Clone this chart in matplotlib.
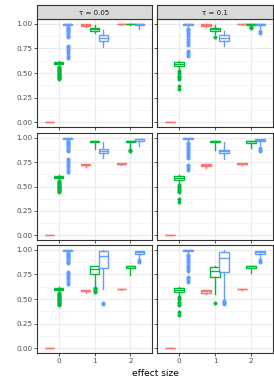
import matplotlib
matplotlib.use("Agg")
import numpy as np
from matplotlib import pyplot as plt

# facets
taus = ["0.05", "0.1"]
effect = [0, 1, 2]
colors = ["#F8766D", "#00BA38", "#619CFF"]   # red, green, blue groups
offsets = [-0.25, 0.0, 0.25]

# box summaries (lo, q1, med, q3, hi): one row per effect size, red/green/blue inside
box_r1_t005 = [
    [(0, 0, 0, 0, 0), (0.57, 0.59, 0.60, 0.61, 0.62), (0.98, 0.99, 1.0, 1.0, 1.0)],
    [(0.97, 0.98, 0.99, 1.0, 1.0), (0.91, 0.93, 0.945, 0.96, 0.99), (0.76, 0.83, 0.86, 0.89, 0.94)],
    [(0.99, 0.995, 1.0, 1.0, 1.0), (0.99, 0.995, 1.0, 1.0, 1.0), (0.95, 0.99, 1.0, 1.0, 1.0)],
]
box_r1_t01 = [
    [(0, 0, 0, 0, 0), (0.53, 0.57, 0.59, 0.61, 0.62), (0.97, 0.99, 1.0, 1.0, 1.0)],
    [(0.97, 0.98, 0.99, 1.0, 1.0), (0.90, 0.93, 0.945, 0.96, 0.99), (0.78, 0.83, 0.86, 0.89, 0.93)],
    [(0.99, 0.995, 1.0, 1.0, 1.0), (0.98, 0.99, 1.0, 1.0, 1.0), (0.96, 0.99, 1.0, 1.0, 1.0)],
]
box_r2_t005 = [
    [(0, 0, 0, 0, 0), (0.57, 0.59, 0.60, 0.61, 0.62), (0.98, 0.99, 1.0, 1.0, 1.0)],
    [(0.70, 0.72, 0.725, 0.73, 0.73), (0.89, 0.96, 0.965, 0.97, 0.97), (0.79, 0.84, 0.86, 0.89, 0.96)],
    [(0.725, 0.73, 0.735, 0.74, 0.745), (0.90, 0.96, 0.965, 0.97, 0.97), (0.92, 0.97, 0.99, 0.99, 0.99)],
]
box_r2_t01 = [
    [(0, 0, 0, 0, 0), (0.53, 0.57, 0.59, 0.61, 0.62), (0.97, 0.99, 1.0, 1.0, 1.0)],
    [(0.69, 0.71, 0.72, 0.73, 0.73), (0.88, 0.96, 0.965, 0.97, 0.97), (0.78, 0.84, 0.86, 0.88, 0.96)],
    [(0.725, 0.73, 0.735, 0.74, 0.745), (0.90, 0.95, 0.965, 0.97, 0.97), (0.93, 0.97, 0.98, 0.99, 0.99)],
]
box_r3_t005 = [
    [(0, 0, 0, 0, 0), (0.57, 0.59, 0.60, 0.61, 0.62), (0.98, 0.99, 1.0, 1.0, 1.0)],
    [(0.56, 0.58, 0.585, 0.59, 0.59), (0.62, 0.75, 0.81, 0.84, 0.84), (0.60, 0.82, 0.94, 0.99, 1.0)],
    [(0.595, 0.597, 0.60, 0.60, 0.605), (0.74, 0.82, 0.84, 0.84, 0.84), (0.92, 0.96, 0.98, 0.99, 0.99)],
]
box_r3_t01 = [
    [(0, 0, 0, 0, 0), (0.53, 0.57, 0.59, 0.61, 0.62), (0.97, 0.99, 1.0, 1.0, 1.0)],
    [(0.55, 0.56, 0.58, 0.59, 0.59), (0.55, 0.72, 0.79, 0.83, 0.84), (0.50, 0.78, 0.92, 0.98, 1.0)],
    [(0.595, 0.597, 0.60, 0.60, 0.605), (0.76, 0.82, 0.84, 0.84, 0.84), (0.92, 0.96, 0.98, 0.99, 0.99)],
]

# outliers keyed by (effect index, group index)
green0_t005 = [0.44, 0.45, 0.46, 0.47, 0.48, 0.49, 0.50, 0.51, 0.52, 0.53, 0.54, 0.55, 0.56]
blue0_t005 = [0.65, 0.67, 0.70, 0.72, 0.74, 0.76, 0.78, 0.87, 0.88, 0.90, 0.92, 0.93, 0.94, 0.95, 0.96, 0.97]
green0_t01 = [0.34, 0.37, 0.44, 0.46, 0.47, 0.50, 0.52]
blue0_t01 = [0.67, 0.69, 0.71, 0.72, 0.79, 0.81, 0.83, 0.85, 0.88, 0.90, 0.92, 0.94, 0.95]

out_r1_t005 = {(0, 1): green0_t005, (0, 2): blue0_t005}
out_r1_t01 = {(0, 1): green0_t01, (0, 2): blue0_t01, (1, 1): [0.87],
              (2, 1): [0.96, 0.97], (2, 2): [0.91, 0.93]}
out_r2_t005 = {(0, 1): green0_t005, (0, 2): blue0_t005, (2, 1): [0.87, 0.88]}
out_r2_t01 = {(0, 1): green0_t01, (0, 2): blue0_t01, (2, 2): [0.86, 0.88, 0.90]}
out_r3_t005 = {(0, 1): green0_t005, (0, 2): blue0_t005, (1, 1): [0.57, 0.58, 0.60, 0.61],
               (1, 2): [0.45, 0.46], (2, 2): [0.88, 0.90]}
out_r3_t01 = {(0, 1): green0_t01, (0, 2): blue0_t01, (1, 1): [0.46],
              (1, 2): [0.45, 0.46, 0.47, 0.48], (2, 2): [0.88, 0.90]}

boxes = [[box_r1_t005, box_r1_t01], [box_r2_t005, box_r2_t01], [box_r3_t005, box_r3_t01]]
outs = [[out_r1_t005, out_r1_t01], [out_r2_t005, out_r2_t01], [out_r3_t005, out_r3_t01]]

W, H = 274, 384
fig = plt.figure(figsize=(2.74, 3.84), dpi=100)

col_x = [(37, 152), (157, 273)]
row_y = [(19, 127), (133, 240), (245, 353)]
dark = "#333333"

def frac(x0, x1, y0, y1):
    return [x0 / W, 1 - y1 / H, (x1 - x0) / W, (y1 - y0) / H]

for r in range(3):
    for c in range(2):
        ax = fig.add_axes(frac(col_x[c][0], col_x[c][1], row_y[r][0], row_y[r][1]))
        ax.set_xlim(-0.6, 2.6)
        ax.set_ylim(-0.05, 1.05)
        ax.set_yticks([0, 0.25, 0.5, 0.75, 1.0])
        ax.set_yticks([0.125, 0.375, 0.625, 0.875], minor=True)
        ax.set_xticks(effect)
        ax.grid(which="major", color="#EBEBEB", lw=0.8)
        ax.grid(which="minor", axis="y", color="#F2F2F2", lw=0.45)
        ax.set_axisbelow(True)
        for s in ax.spines.values():
            s.set_color(dark)
            s.set_linewidth(0.8)
        ax.tick_params(which="major", length=2, width=0.6, color=dark,
                       labelsize=5.2, labelcolor="#4D4D4D", pad=1.5)
        ax.tick_params(which="minor", length=0)
        if c == 0:
            ax.set_yticklabels(["0.00", "0.25", "0.50", "0.75", "1.00"])
        else:
            ax.tick_params(axis="y", labelleft=False)
        if r < 2:
            ax.tick_params(axis="x", labelbottom=False)

        for g in range(3):
            stats = []
            pos = []
            for e in effect:
                lo, q1, med, q3, hi = boxes[r][c][e][g]
                stats.append(dict(whislo=lo, q1=q1, med=med, q3=q3, whishi=hi,
                                  fliers=outs[r][c].get((e, g), [])))
                pos.append(e + offsets[g])
            col = colors[g]
            ax.bxp(stats, positions=pos, widths=0.27, patch_artist=True,
                   showcaps=False, manage_ticks=False,
                   boxprops=dict(facecolor="white", edgecolor=col, lw=1.0),
                   medianprops=dict(color=col, lw=1.0),
                   whiskerprops=dict(color=col, lw=1.0),
                   flierprops=dict(marker="o", markersize=2.5, markerfacecolor=col,
                                   markeredgecolor=col, markeredgewidth=0.3))

        if r == 0:
            sax = fig.add_axes(frac(col_x[c][0], col_x[c][1], 5, 19))
            sax.set_facecolor("#D9D9D9")
            sax.set_xticks([])
            sax.set_yticks([])
            for s in sax.spines.values():
                s.set_color(dark)
                s.set_linewidth(0.8)
            sax.text(0.5, 0.45, "τ = " + taus[c], ha="center", va="center",
                     fontsize=5, color="#1A1A1A", transform=sax.transAxes)

fig.text((37 + 273) / 2 / W, 1 - 373 / H, "effect size", ha="center", va="center",
         fontsize=6.5, color="black")

fig.savefig("out.png", dpi=100)
